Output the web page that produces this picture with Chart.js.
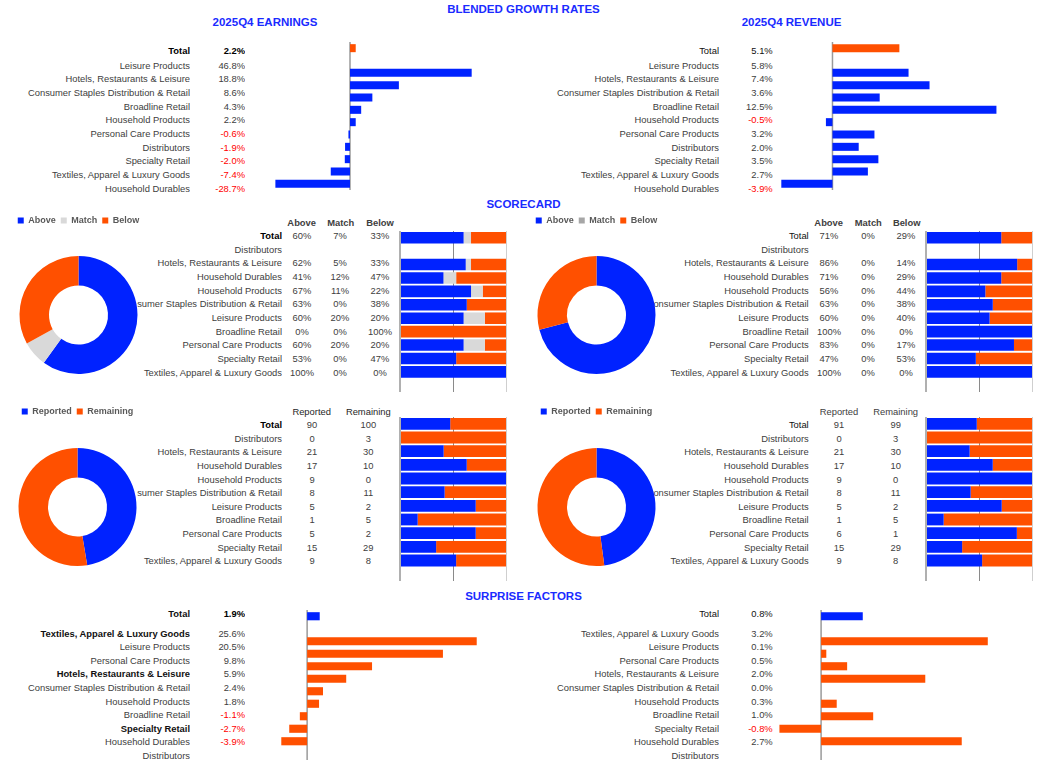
<!DOCTYPE html>
<html><head><meta charset="utf-8">
<script src="https://cdn.jsdelivr.net/npm/chart.js@4.4.1/dist/chart.umd.min.js"></script>
<style>
html,body{margin:0;padding:0;background:#fff;}
body{position:relative;width:1048px;height:763px;overflow:hidden;font-family:'Liberation Sans',Arial,sans-serif;}
.t{position:absolute;height:12px;line-height:12px;font-size:9.4px;color:#404040;white-space:nowrap;overflow:hidden;}
.t span.r{position:absolute;right:0;top:0;}
.ttl{position:absolute;width:300px;text-align:center;font-weight:bold;color:#1a2bff;font-size:11.5px;line-height:14px;height:14px;white-space:nowrap;}
canvas{position:absolute;}
</style></head><body>
<script>
// ---------------- DATA ----------------
const growthCategories = ['Total','Leisure Products','Hotels, Restaurants & Leisure','Consumer Staples Distribution & Retail','Broadline Retail','Household Products','Personal Care Products','Distributors','Specialty Retail','Textiles, Apparel & Luxury Goods','Household Durables'];
const earningsGrowth = [2.2, 46.8, 18.8, 8.6, 4.3, 2.2, -0.6, -1.9, -2.0, -7.4, -28.7];
const revenueGrowth  = [5.1, 5.8, 7.4, 3.6, 12.5, -0.5, 3.2, 2.0, 3.5, 2.7, -3.9];

const scoreCategories = ['Total','Distributors','Hotels, Restaurants & Leisure','Household Durables','Household Products','Consumer Staples Distribution & Retail','Leisure Products','Broadline Retail','Personal Care Products','Specialty Retail','Textiles, Apparel & Luxury Goods'];
const scoreSeries = ['Above','Match','Below'];
const earnAbove = [60, null, 62, 41, 67, 63, 60, 0, 60, 53, 100];
const earnMatch = [7, null, 5, 12, 11, 0, 20, 0, 20, 0, 0];
const earnBelow = [33, null, 33, 47, 22, 38, 20, 100, 20, 47, 0];
const revAbove  = [71, null, 86, 71, 56, 63, 60, 100, 83, 47, 100];
const revMatch  = [0, null, 0, 0, 0, 0, 0, 0, 0, 0, 0];
const revBelow  = [29, null, 14, 29, 44, 38, 40, 0, 17, 53, 0];

const reportSeries = ['Reported','Remaining'];
const earnReported  = [90, 0, 21, 17, 9, 8, 5, 1, 5, 15, 9];
const earnRemaining = [100, 3, 30, 10, 0, 11, 2, 5, 2, 29, 8];
const revReported   = [91, 0, 21, 17, 9, 8, 5, 1, 6, 15, 9];
const revRemaining  = [99, 3, 30, 10, 0, 11, 2, 5, 1, 29, 8];

const surpriseCategories = ['Total','Textiles, Apparel & Luxury Goods','Leisure Products','Personal Care Products','Hotels, Restaurants & Leisure','Consumer Staples Distribution & Retail','Household Products','Broadline Retail','Specialty Retail','Household Durables','Distributors'];
const earnSurprise = [1.9, 25.6, 20.5, 9.8, 5.9, 2.4, 1.8, -1.1, -2.7, -3.9, null];
const revSurprise  = [0.8, 3.2, 0.1, 0.5, 2.0, 0.0, 0.3, 1.0, -0.8, 2.7, null];

const percentTicks = [0, 50, 100];

// ---------------- STYLE ----------------
const BLUE = '#0022ff', ORANGE = '#ff5000', LGRAY = '#d9d9d9', MGRAY = '#a6a6a6';
const TXT = '#404040', RED = '#ff0000';
Chart.defaults.font.family = "'Liberation Sans', Arial, sans-serif";

// ---------------- TEXT HELPERS ----------------
function txt(s, x, yc, align, o) {
  o = o || {};
  const d = document.createElement('div');
  d.className = 't';
  let w = o.w || 300, left;
  if (o.clip !== undefined) {
    w = x - o.clip; left = o.clip;
    const sp = document.createElement('span');
    sp.className = 'r';
    sp.textContent = s;
    d.appendChild(sp);
  } else {
    d.textContent = s;
    if (align === 'right') left = x - w;
    else if (align === 'center') left = x - w / 2;
    else left = x;
  }
  d.style.left = left + 'px';
  d.style.width = w + 'px';
  d.style.top = (yc - 6) + 'px';
  d.style.textAlign = align;
  if (o.bold) d.style.fontWeight = 'bold';
  if (o.color) d.style.color = o.color;
  document.body.appendChild(d);
}
function title(s, xc, yc) {
  const d = document.createElement('div');
  d.className = 'ttl';
  d.textContent = s;
  d.style.left = (xc - 150) + 'px';
  d.style.top = (yc - 7) + 'px';
  document.body.appendChild(d);
}
function pct1(v) { return v === null ? '' : v.toFixed(1) + '%'; }
function pct0(v) { return v === null ? '' : v + '%'; }

// ---------------- TITLES ----------------
title('BLENDED GROWTH RATES', 523.5, 8.5);
title('2025Q4 EARNINGS', 265, 21.7);
title('2025Q4 REVENUE', 791.5, 21.7);
title('SCORECARD', 523.5, 203.5);
title('SURPRISE FACTORS', 523.5, 595.7);

// ---------------- GROWTH TABLES ----------------
const growthY = i => i === 0 ? 51 : 65.7 + (i - 1) * 13.67;
growthCategories.forEach((c, i) => {
  const tot = i === 0;
  txt(c, 190, growthY(i), 'right', {bold: tot, color: tot ? '#000' : TXT});
  const v = earningsGrowth[i];
  txt(pct1(v), 245, growthY(i), 'right', {bold: tot, color: v < 0 ? RED : (tot ? '#000' : TXT)});
  txt(c, 719, growthY(i), 'right', {color: tot ? '#111' : TXT});
  const r = revenueGrowth[i];
  txt(pct1(r), 772.7, growthY(i), 'right', {color: r < 0 ? RED : (tot ? '#111' : TXT)});
});

// ---------------- SCORECARD TABLES ----------------
const scoreY = i => 236 + i * 13.67;
txt('Above', 301.7, 223.3, 'center', {bold: true, w: 60});
txt('Match', 340.7, 223.3, 'center', {bold: true, w: 60});
txt('Below', 380, 223.3, 'center', {bold: true, w: 60});
txt('Above', 828.7, 223.3, 'center', {bold: true, w: 60});
txt('Match', 868.3, 223.3, 'center', {bold: true, w: 60});
txt('Below', 906.7, 223.3, 'center', {bold: true, w: 60});
scoreCategories.forEach((c, i) => {
  const tot = i === 0;
  txt(c, 282, scoreY(i), 'right', {clip: 137, bold: tot, color: tot ? '#000' : TXT});
  txt(pct0(earnAbove[i]), 302, scoreY(i), 'center', {w: 60});
  txt(pct0(earnMatch[i]), 340, scoreY(i), 'center', {w: 60});
  txt(pct0(earnBelow[i]), 380, scoreY(i), 'center', {w: 60});
  txt(c, 808.7, scoreY(i), 'right', {clip: 653, color: tot ? '#111' : TXT});
  txt(pct0(revAbove[i]), 829, scoreY(i), 'center', {w: 60});
  txt(pct0(revMatch[i]), 868, scoreY(i), 'center', {w: 60});
  txt(pct0(revBelow[i]), 906, scoreY(i), 'center', {w: 60});
});

// ---------------- REPORTED TABLES ----------------
const repY = i => 425 + i * 13.63;
txt('Reported', 311.7, 411.7, 'center', {w: 70, color: '#262626'});
txt('Remaining', 368.3, 411.7, 'center', {w: 70, color: '#262626'});
txt('Reported', 839, 411.7, 'center', {w: 70});
txt('Remaining', 895.7, 411.7, 'center', {w: 70});
scoreCategories.forEach((c, i) => {
  const tot = i === 0;
  txt(c, 282, repY(i), 'right', {clip: 137, bold: tot, color: tot ? '#000' : TXT});
  txt(String(earnReported[i]), 312, repY(i), 'center', {w: 60});
  txt(String(earnRemaining[i]), 368.3, repY(i), 'center', {w: 60});
  txt(c, 808.7, repY(i), 'right', {clip: 653, color: tot ? '#111' : TXT});
  txt(String(revReported[i]), 839, repY(i), 'center', {w: 60});
  txt(String(revRemaining[i]), 895.7, repY(i), 'center', {w: 60});
});

// ---------------- SURPRISE TABLES ----------------
const surY = i => i === 0 ? 614.3 : 633.7 + (i - 1) * 13.56;
const surBold = ['Total','Textiles, Apparel & Luxury Goods','Hotels, Restaurants & Leisure','Specialty Retail'];
surpriseCategories.forEach((c, i) => {
  const tot = i === 0;
  const b = surBold.indexOf(c) >= 0;
  txt(c, 190, surY(i), 'right', {bold: b, color: b ? '#111' : TXT});
  const v = earnSurprise[i];
  txt(pct1(v), 245, surY(i), 'right', {bold: tot, color: v < 0 ? RED : (tot ? '#000' : TXT)});
  txt(c, 719, surY(i), 'right', {color: tot ? '#111' : TXT});
  const r = revSurprise[i];
  txt(pct1(r), 772.7, surY(i), 'right', {color: r < 0 ? RED : (tot ? '#111' : TXT)});
});

// ---------------- CHART HELPERS ----------------
function makeCanvas(left, top, w, h) {
  const c = document.createElement('canvas');
  c.width = w; c.height = h;
  c.style.left = left + 'px'; c.style.top = top + 'px';
  c.style.width = w + 'px'; c.style.height = h + 'px';
  document.body.appendChild(c);
  return c;
}
const zeroLine = {
  id: 'zeroLine',
  beforeDatasetsDraw(chart) {
    const x = chart.scales.x.getPixelForValue(0);
    const {top, bottom} = chart.chartArea;
    const ctx = chart.ctx;
    ctx.save();
    ctx.strokeStyle = '#9a9a9a';
    ctx.lineWidth = 1.5;
    ctx.beginPath(); ctx.moveTo(x, top); ctx.lineTo(x, bottom); ctx.stroke();
    ctx.restore();
  }
};
function barChart(canvas, cats, vals, firstColor, restColor, min, max) {
  const labels = [cats[0], ''].concat(cats.slice(1));
  const data = [vals[0], null].concat(vals.slice(1));
  const colors = data.map((v, i) => i === 0 ? firstColor : restColor);
  return new Chart(canvas, {
    type: 'bar',
    data: {labels, datasets: [{data, backgroundColor: colors, borderWidth: 0, barPercentage: 0.65, categoryPercentage: 1}]},
    options: {
      indexAxis: 'y', responsive: false, animation: false,
      layout: {padding: 0},
      plugins: {legend: {display: false}, tooltip: {enabled: false}},
      scales: {x: {display: false, min, max}, y: {display: false}}
    },
    plugins: [zeroLine]
  });
}
function stackChart(canvas, cats, series, colors) {
  const labels = cats.concat(['']);
  return new Chart(canvas, {
    type: 'bar',
    data: {labels, datasets: series.map((s, k) => ({label: s.label, data: s.data.concat([null]), backgroundColor: colors[k], borderWidth: 0, barPercentage: 0.86, categoryPercentage: 1}))},
    options: {
      indexAxis: 'y', responsive: false, animation: false,
      layout: {padding: {left: 2, right: 2, top: 0, bottom: 0}},
      plugins: {legend: {display: false}, tooltip: {enabled: false}},
      scales: {
        x: {stacked: true, min: 0, max: 100, display: true,
            afterBuildTicks: ax => { ax.ticks = percentTicks.map(v => ({value: v})); },
            ticks: {display: false},
            border: {display: false},
            grid: {drawTicks: false, color: c => c.index === 0 ? '#b0b0b0' : (c.index === 1 ? '#8a8a8a' : '#cfcfcf'), lineWidth: c => c.index === 0 ? 2 : 1}},
        y: {stacked: true, display: false}
      }
    }
  });
}
function share(a, b) { return a.map((v, i) => (v + b[i]) === 0 ? null : v / (v + b[i]) * 100); }
function donut(canvas, labels, data, colors) {
  return new Chart(canvas, {
    type: 'doughnut',
    data: {labels, datasets: [{data, backgroundColor: colors, borderWidth: 0, radius: 59, cutout: '50%'}]},
    options: {
      responsive: false, animation: false,
      layout: {padding: 0},
      plugins: {
        tooltip: {enabled: false},
        legend: {position: 'top', align: 'center',
          labels: {boxWidth: 6, boxHeight: 6, padding: 5, color: '#595959', font: {size: 9, weight: 'bold'}}}
      }
    }
  });
}

// ---------------- CHARTS ----------------
barChart(makeCanvas(272, 42, 208, 148), growthCategories, earningsGrowth, ORANGE, BLUE, -30, 50);
barChart(makeCanvas(780, 42, 223, 148), growthCategories, revenueGrowth, ORANGE, BLUE, -4, 13);

donut(makeCanvas(3, 211, 151, 184), scoreSeries, [earnAbove[0], earnMatch[0], earnBelow[0]], [BLUE, LGRAY, ORANGE]);
donut(makeCanvas(521, 211, 151, 184), scoreSeries, [revAbove[0], revMatch[0], revBelow[0]], [BLUE, MGRAY, ORANGE]);
stackChart(makeCanvas(398, 231, 110, 161), scoreCategories,
  [{label: 'Above', data: earnAbove}, {label: 'Match', data: earnMatch}, {label: 'Below', data: earnBelow}], [BLUE, LGRAY, ORANGE]);
stackChart(makeCanvas(924, 231, 110, 161), scoreCategories,
  [{label: 'Above', data: revAbove}, {label: 'Match', data: revMatch}, {label: 'Below', data: revBelow}], [BLUE, MGRAY, ORANGE]);

donut(makeCanvas(2, 401.7, 151, 186), reportSeries, [earnReported[0], earnRemaining[0]], [BLUE, ORANGE]);
donut(makeCanvas(521, 401.7, 151, 186), reportSeries, [revReported[0], revRemaining[0]], [BLUE, ORANGE]);
stackChart(makeCanvas(398, 417, 110, 164), scoreCategories,
  [{label: 'Reported', data: share(earnReported, earnRemaining)}, {label: 'Remaining', data: share(earnRemaining, earnReported)}], [BLUE, ORANGE]);
stackChart(makeCanvas(924, 417, 110, 164), scoreCategories,
  [{label: 'Reported', data: share(revReported, revRemaining)}, {label: 'Remaining', data: share(revRemaining, revReported)}], [BLUE, ORANGE]);

barChart(makeCanvas(273.5, 610, 212, 150), surpriseCategories, earnSurprise, BLUE, ORANGE, -5, 27);
barChart(makeCanvas(769, 610, 224, 150), surpriseCategories, revSurprise, BLUE, ORANGE, -1, 3.3);
</script></body></html>
